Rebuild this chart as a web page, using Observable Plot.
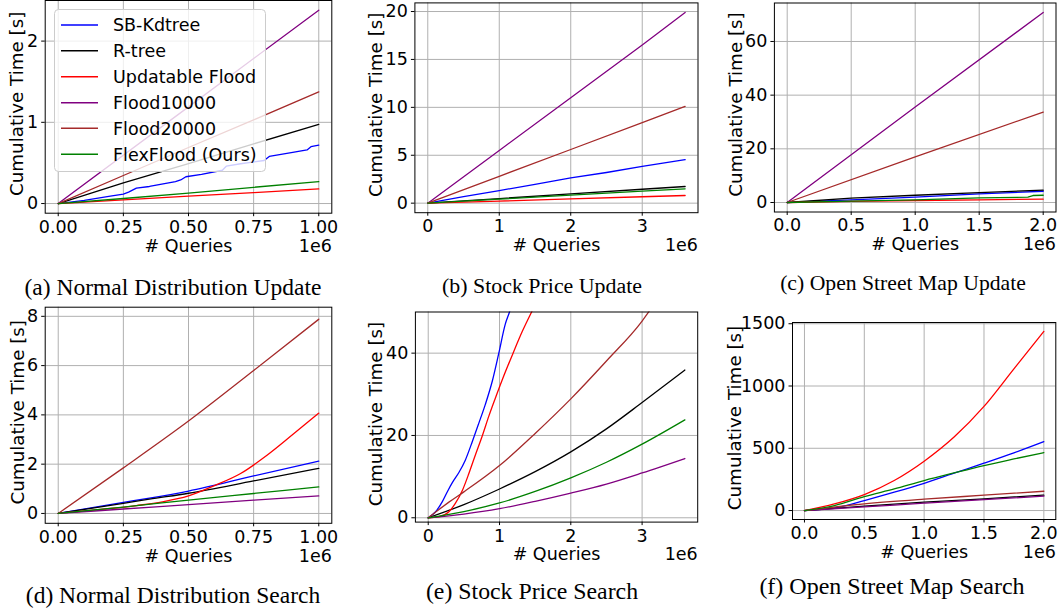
<!DOCTYPE html>
<html><head><meta charset="utf-8">
<script src="https://cdn.jsdelivr.net/npm/d3@7"></script>
<script src="https://cdn.jsdelivr.net/npm/@observablehq/plot@0.6"></script>
<style>
body{margin:0;background:#fff;}
#root{position:relative;width:1060px;height:613px;overflow:hidden;background:#fff;}
.panel{position:absolute;}
.cap{position:absolute;font-family:"Liberation Serif","Times New Roman",serif;text-align:center;width:400px;white-space:nowrap;color:#000;}
</style></head><body><div id="root"></div>
<script>
// ---------- series meta ----------
const seriesNames = ["SB-Kdtree","R-tree","Updatable Flood","Flood10000","Flood20000","FlexFlood (Ours)"];
const seriesColors = ["#0000ff","#000000","#ff0000","#800080","#a52a2a","#008000"];

// ---------- (a) Normal Distribution Update, x in 1e6 queries ----------
const aSB    = [[0,0],[0.1,0.04],[0.2,0.09],[0.25,0.115],[0.27,0.14],[0.3,0.19],[0.35,0.21],[0.45,0.27],[0.47,0.29],[0.49,0.33],[0.55,0.36],[0.63,0.41],[0.645,0.46],[0.7,0.49],[0.79,0.53],[0.81,0.58],[0.9,0.63],[0.955,0.66],[0.97,0.70],[1.0,0.72]];
const aRtree = [[0,0],[0.25,0.255],[0.5,0.49],[0.75,0.735],[1.0,0.975]];
const aUpd   = [[0,0],[0.25,0.045],[0.5,0.09],[0.75,0.135],[1.0,0.18]];
const aF10k  = [[0,0],[0.5,1.19],[1.0,2.38]];
const aF20k  = [[0,0],[0.25,0.345],[0.5,0.69],[0.75,1.03],[1.0,1.375]];
const aFlex  = [[0,0],[0.25,0.062],[0.5,0.128],[0.75,0.2],[1.0,0.27]];

// ---------- (b) Stock Price Update ----------
const bSB    = [[0,0],[0.5,0.68],[1,1.32],[1.5,1.95],[2,2.64],[2.5,3.2],[3,3.83],[3.6,4.55]];
const bRtree = [[0,0],[1,0.48],[2,0.97],[3,1.45],[3.6,1.74]];
const bUpd   = [[0,0],[1,0.22],[2,0.45],[3,0.67],[3.6,0.8]];
const bF10k  = [[0,0],[1,5.5],[2,11.0],[3,16.5],[3.6,19.9]];
const bF20k  = [[0,0],[1,2.8],[2,5.6],[3,8.4],[3.6,10.1]];
const bFlex  = [[0,0],[1,0.42],[2,0.84],[3,1.25],[3.6,1.5]];

// ---------- (c) Open Street Map Update ----------
const cSB    = [[0,0],[0.5,1.0],[1,2.0],[1.5,3.2],[2,4.2]];
const cRtree = [[0,0],[0.5,1.6],[1,2.7],[1.5,3.7],[2,4.6]];
const cUpd   = [[0,0],[0.5,0.4],[1,0.75],[1.5,1.0],[2,1.24]];
const cF10k  = [[0,0],[1,35.6],[2,70.8]];
const cF20k  = [[0,0],[1,17.0],[2,33.7]];
const cFlex  = [[0,0],[0.5,0.5],[1,1.0],[1.5,1.7],[1.88,2.0],[1.92,2.6],[2,2.7]];

// ---------- (d) Normal Distribution Search ----------
const dSB    = [[0,0],[0.25,0.45],[0.35,0.62],[0.5,0.91],[0.75,1.52],[1.0,2.12]];
const dRtree = [[0,0],[0.25,0.41],[0.35,0.58],[0.5,0.82],[0.75,1.32],[1.0,1.83]];
const dUpd   = [[0,0],[0.1,0.1],[0.2,0.2],[0.3,0.32],[0.4,0.47],[0.5,0.71],[0.6,1.13],[0.7,1.62],[0.8,2.35],[0.9,3.2],[1.0,4.07]];
const dF10k  = [[0,0],[0.25,0.18],[0.5,0.36],[0.75,0.54],[1.0,0.71]];
const dF20k  = [[0,0],[0.25,1.85],[0.5,3.75],[0.75,5.8],[1.0,7.88]];
const dFlex  = [[0,0],[0.25,0.26],[0.5,0.54],[0.75,0.81],[1.0,1.08]];

// ---------- (e) Stock Price Search ----------
const eSB    = [[0,0],[0.1,1.4],[0.2,4.0],[0.27,6.4],[0.34,8.6],[0.43,11.0],[0.52,14.0],[0.62,18.6],[0.71,23.0],[0.8,27.5],[0.9,33.3],[0.99,40],[1.08,47],[1.14,50],[1.2,53.5]];
const eRtree = [[0,0],[0.5,3.2],[1,7.0],[1.5,11.2],[2,16],[2.5,21.6],[3,28],[3.6,35.9]];
const eUpd   = [[0,0],[0.15,0.25],[0.29,1.45],[0.38,3.5],[0.48,6.7],[0.57,10.75],[0.66,15.2],[0.76,20],[0.85,24.7],[0.94,29.0],[1.04,33.6],[1.19,40],[1.32,45.3],[1.45,50],[1.5,51.8]];
const eF10k  = [[0,0],[0.5,0.9],[1,2.2],[1.5,4.0],[2,6.0],[2.5,8.2],[3,10.9],[3.6,14.4]];
const eF20k  = [[0,0],[0.29,3.8],[0.5,6.3],[1,12.7],[1.5,20.5],[2,28.9],[2.5,38.1],[3,47.8],[3.1,50.2]];
const eFlex  = [[0,0],[0.5,1.5],[1,3.6],[1.5,6.4],[2,9.7],[2.5,13.5],[3,17.9],[3.6,23.8]];

// ---------- (f) Open Street Map Search ----------
const fSB    = [[0,0],[0.25,21],[0.5,80],[0.75,147],[1,219],[1.25,300],[1.5,380],[1.75,463],[2,553]];
const fRtree = [[0,0],[0.5,35],[1,67],[1.5,94],[2,124]];
const fUpd   = [[0,0],[0.25,53],[0.5,128],[0.75,241],[1,396],[1.25,590],[1.5,836],[1.75,1138],[2,1438]];
const fF10k  = [[0,0],[0.5,29],[1,59],[1.5,88],[2,115]];
const fF20k  = [[0,0],[0.5,53],[1,91],[1.5,123],[2,155]];
const fFlex  = [[0,0],[0.25,40],[0.5,112],[0.75,174],[1,241],[1.25,302],[1.5,361],[1.75,414],[2,465]];

// ---------- ticks & captions ----------
const xTicksND  = [0,0.25,0.5,0.75,1.0];
const xTicksSP  = [0,1,2,3];
const xTicksOSM = [0,0.5,1.0,1.5,2.0];
const yTicksA = [0,1,2];
const yTicksB = [0,5,10,15,20];
const yTicksC = [0,20,40,60];
const yTicksD = [0,2,4,6,8];
const yTicksE = [0,20,40];
const yTicksF = [0,500,1000,1500];
const captions = ["(a) Normal Distribution Update","(b) Stock Price Update","(c) Open Street Map Update",
                  "(d) Normal Distribution Search","(e) Stock Price Search","(f) Open Street Map Search"];
const yLabel = "Cumulative Time [s]";
const xLabel = "# Queries";
const xOffsetText = "1e6";

// ---------- layout ----------
const panels = [
  {series:[aSB,aRtree,aUpd,aF10k,aF20k,aFlex], box:[0,0,340,300],   frame:[44.7,0,331.3,212.7], xd:[-0.05,1.05], yd:[-0.119,2.5], xt:xTicksND, yt:yTicksA, xf:".2f", curve:"linear",     cap:[173,290], capFs:23.5, ylDx:-28.5, qDy:33},
  {series:[bSB,bRtree,bUpd,bF10k,bF20k,bFlex], box:[340,0,360,300], frame:[414.4,2.4,697.5,212.2], xd:[-0.18,3.78], yd:[-0.995,20.9], xt:xTicksSP, yt:yTicksB, xf:"d",  curve:"linear",     cap:[542,288], capFs:21.9, ylDx:-39, qDy:32.5},
  {series:[cSB,cRtree,cUpd,cF10k,cF20k,cFlex], box:[700,0,360,300], frame:[773.9,2.5,1055.5,211.5], xd:[-0.1,2.1], yd:[-3.54,74.34], xt:xTicksOSM, yt:yTicksC, xf:".1f", curve:"linear",    cap:[903,286], capFs:21.7, ylDx:-38.5, qDy:32.5},
  {series:[dSB,dRtree,dUpd,dF10k,dF20k,dFlex], box:[0,300,340,313], frame:[44.7,306.7,331.3,522.8], xd:[-0.05,1.05], yd:[-0.4,8.37], xt:xTicksND, yt:yTicksD, xf:".2f", curve:"monotone-x", cap:[173,598], capFs:23.5, ylDx:-27.5, qDy:33},
  {series:[eSB,eRtree,eUpd,eF10k,eF20k,eFlex], box:[340,300,360,313], frame:[414.9,311.5,697.2,521.6], xd:[-0.18,3.78], yd:[-1.05,50], xt:xTicksSP, yt:yTicksE, xf:"d", curve:"monotone-x", cap:[532,594], capFs:23.8, ylDx:-39, qDy:32},
  {series:[fSB,fRtree,fUpd,fF10k,fF20k,fFlex], box:[700,300,360,313], frame:[792,322,1055.3,519], xd:[-0.1,2.1], yd:[-72,1510], xt:xTicksOSM, yt:yTicksF, xf:".1f", curve:"monotone-x", cap:[892,588], capFs:24, ylDx:-57, qDy:33}
];

const root = document.getElementById("root");
const FS = 17.5;
const gridStyle = {stroke:"#b0b0b0", strokeOpacity:1, strokeWidth:1};

panels.forEach((p, i) => {
  const [L, T, W, H] = p.box;
  const [fl, ft, fr, fb] = p.frame;
  const rows = p.series.flatMap((pts, k) => pts.map(([x, y]) => ({series: seriesNames[k], x, y})));
  const svg = Plot.plot({
    width: W, height: H,
    marginLeft: fl - L, marginTop: ft - T, marginRight: L + W - fr, marginBottom: T + H - fb,
    x: {domain: p.xd},
    y: {domain: p.yd},
    color: {domain: seriesNames, range: seriesColors},
    style: `font-family:'DejaVu Sans',sans-serif;font-size:${FS}px;background:transparent;overflow:visible;color:#000;`,
    marks: [
      Plot.gridX(p.xt, gridStyle),
      Plot.gridY(p.yt, gridStyle),
      Plot.line(rows, {x:"x", y:"y", z:"series", stroke:"series", strokeWidth:1.3, curve:p.curve, clip:true}),
      Plot.frame({stroke:"#000", strokeWidth:1}),
      Plot.axisX(p.xt, {tickSize:3.5, tickPadding:3.5, tickFormat:d3.format(p.xf), label:null, fontSize:FS}),
      Plot.axisY(p.yt, {tickSize:3.5, tickPadding:3.5, tickFormat:d3.format("d"), label:null, fontSize:FS}),
      Plot.text([yLabel], {text:d=>d, frameAnchor:"left", rotate:-90, dx:p.ylDx, dy:-3, textAnchor:"middle", lineAnchor:"middle", fontSize:18.3}),
      Plot.text([xLabel], {text:d=>d, frameAnchor:"bottom", dy:p.qDy, textAnchor:"middle", lineAnchor:"middle", fontSize:FS}),
      Plot.text([xOffsetText], {text:d=>d, frameAnchor:"bottom-right", dy:p.qDy, textAnchor:"end", lineAnchor:"middle", fontSize:FS})
    ]
  });
  svg.classList.add("panel");
  svg.style.left = L + "px";
  svg.style.top = T + "px";
  root.appendChild(svg);

  const cap = document.createElement("div");
  cap.className = "cap";
  cap.textContent = captions[i];
  cap.style.fontSize = p.capFs + "px";
  cap.style.lineHeight = p.capFs + "px";
  cap.style.left = (p.cap[0] - 200) + "px";
  cap.style.top = (p.cap[1] - 0.6 * p.capFs) + "px";
  root.appendChild(cap);
});

// legend overlay for panel (a)
const rowCenters = [25, 50.7, 76.7, 102.7, 128.3, 154.3];
const leg = d3.create("svg")
  .attr("width", 340).attr("height", 300)
  .style("position", "absolute").style("left", "0px").style("top", "0px")
  .style("overflow", "visible").style("pointer-events", "none");
leg.append("rect")
  .attr("x", 54.5).attr("y", 9.5).attr("width", 211).attr("height", 162).attr("rx", 4)
  .attr("fill", "#ffffff").attr("fill-opacity", 0.8).attr("stroke", "#cccccc").attr("stroke-width", 1);
const items = leg.selectAll("g.item").data(seriesNames).join("g").attr("class", "item");
items.append("line")
  .attr("x1", 61).attr("x2", 98)
  .attr("y1", (d, k) => rowCenters[k]).attr("y2", (d, k) => rowCenters[k])
  .attr("stroke", (d, k) => seriesColors[k]).attr("stroke-width", 1.5);
items.append("text")
  .attr("x", 113).attr("y", (d, k) => rowCenters[k]).attr("dy", "0.36em")
  .attr("font-family", "'DejaVu Sans',sans-serif").attr("font-size", FS).attr("fill", "#000")
  .text(d => d);
root.appendChild(leg.node());
</script></body></html>
